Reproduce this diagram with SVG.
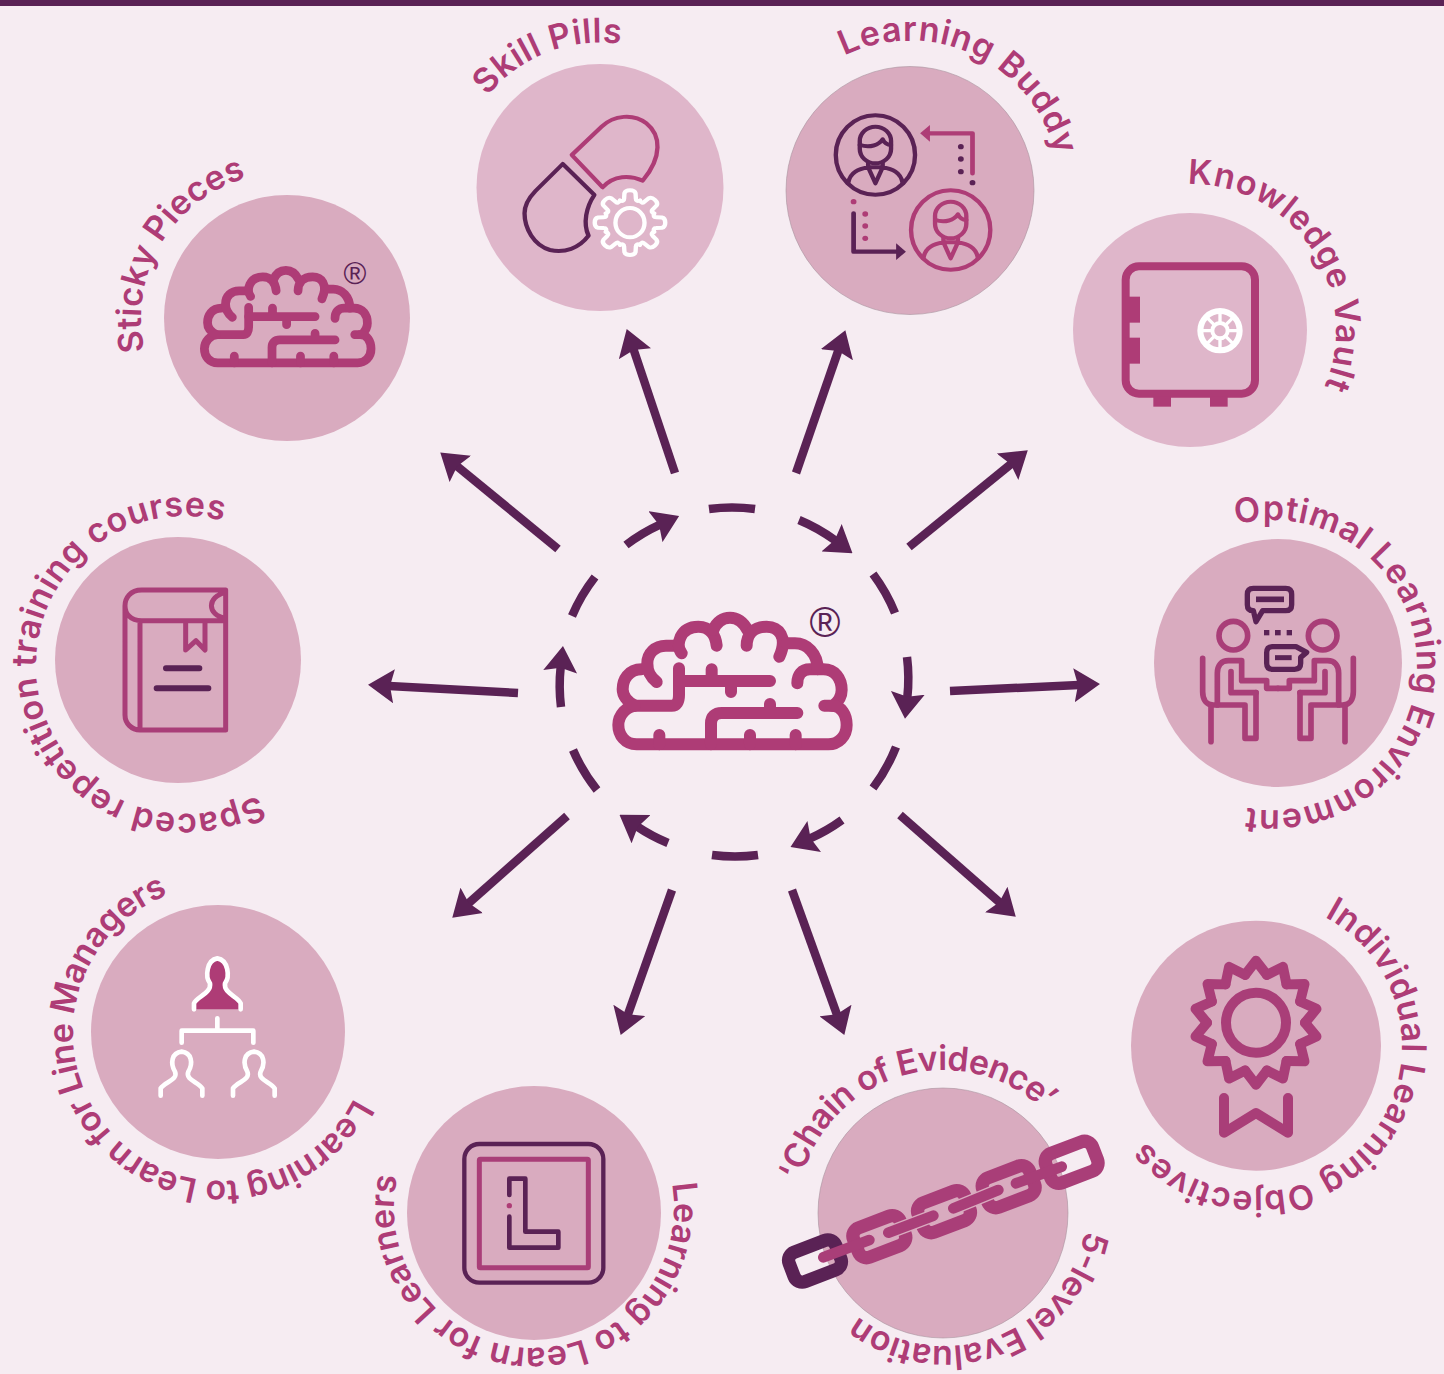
<svg xmlns="http://www.w3.org/2000/svg" xmlns:xlink="http://www.w3.org/1999/xlink" width="1444" height="1374" viewBox="0 0 1444 1374">
<style>
.lbl{font-family:"Inter","Open Sans","Liberation Sans",sans-serif;font-weight:600;font-size:34px;fill:#AE3C76}
.reg{font-family:"Liberation Sans",sans-serif;fill:#5A2255}
.c1{fill:#DFB6CA}
.c2{fill:#D9ABBF}
.cg{stroke:#A8929E;stroke-width:.6}
.ln{fill:none;stroke-linecap:round;stroke-linejoin:round}
.m{stroke:#AE3C76}
.mm{stroke:#A93E78}
.dk{stroke:#5A2255}
.wh{stroke:#fff}
.fm{fill:#AE3C76}
.fd{fill:#5A2255}
.arrow{fill:none;stroke:#5A2255;stroke-width:8.5;marker-end:url(#head)}
.seg{fill:none;stroke:#5A2255;stroke-width:8.5}
.d{color:#5A2255}
.g{color:#AE3C76}
</style>
<defs>
<marker id="head" markerUnits="userSpaceOnUse" viewBox="0 0 26 34" refX="5" refY="17" markerWidth="26" markerHeight="34" orient="auto"><path d="M26,17 L0,0 L4,17 L0,34 Z" fill="#5A2255"/></marker>
<path id="r140" d="M0,-140 A140,140 0 1 1 0,140 A140,140 0 1 1 0,-140"/>
<path id="r143" d="M0,-143 A143,143 0 1 1 0,143 A143,143 0 1 1 0,-143"/>
<path id="r145" d="M0,-145 A145,145 0 1 1 0,145 A145,145 0 1 1 0,-145"/>
<path id="r146" d="M0,-146 A146,146 0 1 1 0,146 A146,146 0 1 1 0,-146"/>
<path id="r148" d="M0,-148 A148,148 0 1 1 0,148 A148,148 0 1 1 0,-148"/>
<path id="r149" d="M0,-149 A149,149 0 1 1 0,149 A149,149 0 1 1 0,-149"/>
<path id="r150" d="M0,-150 A150,150 0 1 1 0,150 A150,150 0 1 1 0,-150"/>
<g id="brain" class="ln m" stroke-width="36">
<path d="M772,610 C772,585 785,568 810,568 L850,568 C885,568 905,595 905,630 C905,650 895,665 880,677 L853,677"/>
<path d="M875,677 C905,677 920,705 920,735 C920,770 895,793 865,793 L290,793 C255,793 235,765 235,735 C235,705 260,677 290,677 L395,677 C410,677 417,665 417,645 L417,565"/>
<path d="M417,603 L690,603 M515,603 L515,568 M573,603 L573,636"/>
<path d="M513,793 L513,730 C513,710 525,699 545,699 L772,699 M690,699 L690,672"/>
<path d="M358,793 L358,765 M630,793 L630,765 M767,793 L767,765"/>
<path d="M285,677 C260,665 248,645 248,628 C248,600 265,568 305,568"/>
<path d="M350,606 C330,590 322,575 322,550 C322,520 345,497 378,497 L415,497"/>
<path d="M425,520 C405,495 420,440 475,440 C510,440 527,465 530,497"/>
<path d="M520,450 C530,425 550,413 570,413 C590,413 610,425 622,450"/>
<path d="M620,497 C620,465 640,440 680,440 C715,440 745,470 718,530"/>
<path d="M740,490 L765,490 C800,490 833,520 833,568"/>
</g>
<g id="person" fill="none" stroke="currentColor" stroke-width="12" stroke-linecap="round" stroke-linejoin="round">
<ellipse cx="0" cy="0" rx="109" ry="119"/>
<rect x="-43" y="-85" width="86" height="110" rx="43"/>
<path d="M-43,-30 C-15,-20 10,-30 20,-47 C25,-35 35,-30 43,-30"/>
<path d="M-75,85 C-70,50 -45,42 -20,37 L0,85 L20,37 C45,42 70,50 75,85 M-20,25 L-20,37 L20,37 L20,25"/>
</g>
<path id="tooth" class="ln wh" stroke-width="12" d="M-27.6,-66.5 Q-16.2,-62 -16.2,-72 L-15.3,-88 Q-13,-97 0,-97 Q13,-97 15.3,-88 L16.2,-72 Q16.2,-62 27.6,-66.5"/>
<path id="point" class="ln mm" stroke-width="10" d="M-10.9,-47.8 L0,-62 L10.9,-47.8"/>
<g id="sitter" class="ln mm" stroke-width="17" stroke-linecap="butt" stroke-linejoin="miter">
<circle cx="190" cy="197" r="43"/>
<path d="M98,265 L98,365 C98,390 110,405 130,405 L225,405 L225,505 L258,505 L258,368"/>
<path d="M123,405 L123,515"/>
<path d="M142,405 L142,310 C142,285 155,272 175,272 L215,272 L215,332 L290,332 L290,355 L324,355"/>
<path d="M183,305 L183,368 L258,368"/>
</g>
<g id="lperson" class="ln wh" stroke-width="14">
<path d="M62,467 L62,445 C75,425 115,420 105,395 C90,370 95,338 125,335 C155,338 160,370 145,395 C135,420 175,425 187,445 L187,467"/>
</g>
</defs>

<rect width="1444" height="1374" fill="#F6ECF2"/>
<rect width="1444" height="6" fill="#5A2255"/>

<g id="connectors">
<path class="arrow" d="M558,549 L456.5,465.7"/>
<path class="arrow" d="M675,473 L633.4,349"/>
<path class="arrow" d="M796,473 L838.5,350"/>
<path class="arrow" d="M909,547 L1011.5,463.6"/>
<path class="arrow" d="M950,691 L1079,685"/>
<path class="arrow" d="M900,815 L1000,902.8"/>
<path class="arrow" d="M792,890 L837.2,1015.2"/>
<path class="arrow" d="M672,890 L627.7,1015.1"/>
<path class="arrow" d="M567,816 L468,903.7"/>
<path class="arrow" d="M518,693 L389,686"/>
<path class="seg" d="M709,509 A174,174 0 0 1 755,509"/>
<path class="arrow" d="M799,520 A174,174 0 0 1 835.6,540.7"/>
<path class="seg" d="M873,574 A174,174 0 0 1 895,613"/>
<path class="arrow" d="M907,657 A174,174 0 0 1 907.3,697.8"/>
<path class="seg" d="M896,747 A174,174 0 0 1 873,788"/>
<path class="arrow" d="M842,820 A174,174 0 0 1 809.7,838.6"/>
<path class="seg" d="M758,855 A174,174 0 0 1 712,855"/>
<path class="arrow" d="M668,843 A174,174 0 0 1 636.9,826.4"/>
<path class="seg" d="M597,790 A174,174 0 0 1 573,750"/>
<path class="arrow" d="M561,707 A174,174 0 0 1 560.7,666.8"/>
<path class="seg" d="M572,616 A174,174 0 0 1 595,577"/>
<path class="arrow" d="M626,545 A174,174 0 0 1 660,524.6"/>
</g>

<g id="center-brain">
<use href="#brain" transform="translate(540,480) scale(.33333)"/>
<text class="reg" x="825" y="637" font-size="42" text-anchor="middle">®</text>
</g>

<g id="sticky-pieces">
<circle class="c2" cx="287" cy="318" r="123"/>
<use href="#brain" transform="translate(147.2,169.9) scale(.2433)"/>
<text class="reg" x="355" y="284" font-size="31" text-anchor="middle">®</text>
<text class="lbl" transform="translate(287,318) rotate(-103)"><textPath href="#r146" textLength="221" lengthAdjust="spacing">Sticky Pieces</textPath></text>
</g>

<g id="skill-pills">
<circle class="c1" cx="600" cy="187.5" r="123.5"/>
<g transform="translate(470,60) scale(.3636,.3333)">
<path class="ln m" stroke-width="12" d="M280,285 L362,200 C395,165 450,160 485,190 C525,225 530,290 475,362 C440,345 395,345 365,382 Z"/>
<path class="ln dk" stroke-width="12" d="M255,312 L342,405 C320,440 310,490 326,527 C300,565 260,580 220,570 C175,555 150,505 150,460 C150,435 165,410 180,393 Z"/>
<g transform="translate(440,488)">
<use href="#tooth"/><use href="#tooth" transform="rotate(45)"/><use href="#tooth" transform="rotate(90)"/><use href="#tooth" transform="rotate(135)"/><use href="#tooth" transform="rotate(180)"/><use href="#tooth" transform="rotate(225)"/><use href="#tooth" transform="rotate(270)"/><use href="#tooth" transform="rotate(315)"/>
<ellipse class="ln wh" stroke-width="12" rx="40" ry="44"/>
</g>
</g>
<text class="lbl" transform="translate(600,187.5) rotate(-51)"><textPath href="#r145" textLength="150" lengthAdjust="spacing">Skill Pills</textPath></text>
</g>

<g id="learning-buddy">
<circle class="c2 cg" cx="910" cy="190.5" r="124"/>
<g transform="translate(470,60) scale(.3636,.3333)">
<use href="#person" class="d" transform="translate(1115,285)"/>
<use href="#person" class="g" transform="translate(1322,510)"/>
<path class="ln m" stroke-width="13" d="M1382,340 L1382,220 L1260,220"/>
<path class="fm" d="M1238,220 L1265,195 L1265,245 Z"/>
<circle class="fd" cx="1350" cy="260" r="8"/><circle class="fd" cx="1350" cy="297" r="8"/><circle class="fd" cx="1350" cy="335" r="8"/><circle class="fd" cx="1382" cy="368" r="8"/>
<path class="ln dk" stroke-width="13" d="M1055,460 L1055,575 L1180,575"/>
<path class="fd" d="M1199,575 L1172,550 L1172,600 Z"/>
<circle class="fm" cx="1055" cy="425" r="8"/><circle class="fm" cx="1087" cy="462" r="8"/><circle class="fm" cx="1087" cy="498" r="8"/><circle class="fm" cx="1087" cy="535" r="8"/>
</g>
<text class="lbl" transform="translate(910,190.5) rotate(-26)"><textPath href="#r150" textLength="268" lengthAdjust="spacing">Learning Buddy</textPath></text>
</g>

<g id="knowledge-vault">
<circle class="c1" cx="1190" cy="330" r="117"/>
<g transform="translate(1110,255) scale(.33333)">
<rect class="ln m" stroke-width="24" x="47" y="34" width="388" height="382" rx="40"/>
<rect class="fm" x="47" y="125" width="43" height="78"/><rect class="fm" x="47" y="248" width="43" height="78"/>
<rect class="fm" x="130" y="425" width="53" height="30"/><rect class="fm" x="300" y="425" width="53" height="30"/>
<g transform="translate(330,227)" fill="none" stroke="#fff">
<circle r="59" stroke-width="18"/>
<circle r="23" stroke-width="12"/>
<path stroke-width="10" d="M0,-55 V-25 M0,55 V25 M-55,0 H-25 M55,0 H25 M-39,-39 L-18,-18 M39,-39 L18,-18 M-39,39 L-18,18 M39,39 L18,18"/>
</g>
</g>
<text class="lbl" transform="translate(1190,330) rotate(-1)"><textPath href="#r146" textLength="290" lengthAdjust="spacing">Knowledge Vault</textPath></text>
</g>

<g id="optimal-learning-environment">
<circle class="c2" cx="1278" cy="663" r="124"/>
<g transform="translate(1170,570) scale(.33333)">
<use href="#sitter"/>
<use href="#sitter" transform="translate(648,0) scale(-1,1)"/>
<path class="ln dk" stroke-width="16" d="M250,55 L347,55 Q365,55 365,73 L365,104 Q365,122 347,122 L278,122 L258,155 L250,122 Q232,122 232,104 L232,73 Q232,55 250,55 Z"/>
<path class="dk" stroke-width="17" d="M258,88 H342"/>
<rect class="fd" x="282" y="180" width="16" height="16"/><rect class="fd" x="315" y="180" width="17" height="16"/><rect class="fd" x="350" y="180" width="16" height="16"/>
<path class="ln dk" stroke-width="16" d="M308,230 L378,230 L410,247 L392,262 L392,280 Q392,298 374,298 L308,298 Q290,298 290,280 L290,248 Q290,230 308,230 Z"/>
<path class="dk" stroke-width="15" d="M315,263 H365"/>
</g>
<text class="lbl" transform="translate(1272,665) rotate(-14.3)"><textPath href="#r145" textLength="517" lengthAdjust="spacing">Optimal Learning Environment</textPath></text>
</g>

<g id="individual-learning-objectives">
<circle class="c2" cx="1256" cy="1045.7" r="125"/>
<g transform="translate(1256,1022.7)">
<use href="#point"/><use href="#point" transform="rotate(25.714)"/><use href="#point" transform="rotate(51.429)"/><use href="#point" transform="rotate(77.143)"/><use href="#point" transform="rotate(102.857)"/><use href="#point" transform="rotate(128.571)"/><use href="#point" transform="rotate(154.286)"/><use href="#point" transform="rotate(180)"/><use href="#point" transform="rotate(205.714)"/><use href="#point" transform="rotate(231.429)"/><use href="#point" transform="rotate(257.143)"/><use href="#point" transform="rotate(282.857)"/><use href="#point" transform="rotate(308.571)"/><use href="#point" transform="rotate(334.286)"/>
<circle class="ln mm" stroke-width="10" r="30"/>
</g>
<path class="ln mm" stroke-width="10" d="M1224,1098 L1224,1132.7 L1256,1113 L1288,1132.7 L1288,1098"/>
<text class="lbl" transform="translate(1256,1045.7) rotate(28)"><textPath href="#r146" textLength="512" lengthAdjust="spacing">Individual Learning Objectives</textPath></text>
</g>

<g id="chain-of-evidence">
<circle class="c2 cg" cx="943" cy="1213" r="125"/>
<g transform="translate(770,1120) scale(.33333)">
<rect class="ln dk" stroke-width="40" x="-75" y="-47" width="150" height="94" rx="26" transform="translate(135,423) rotate(-21)"/>
<rect class="ln mm" stroke-width="40" x="-75" y="-47" width="150" height="94" rx="26" transform="translate(328,350) rotate(-21)"/>
<rect class="ln mm" stroke-width="40" x="-75" y="-47" width="150" height="94" rx="26" transform="translate(522,275) rotate(-21)"/>
<rect class="ln mm" stroke-width="40" x="-75" y="-47" width="150" height="94" rx="26" transform="translate(716,200) rotate(-21)"/>
<rect class="ln mm" stroke-width="40" x="-75" y="-47" width="150" height="94" rx="26" transform="translate(905,127) rotate(-21)"/>
<path class="ln" stroke="#D9ABBF" stroke-width="40" d="M355,338 L490,287 M550,265 L685,210"/>
<path class="ln mm" stroke-width="32" d="M160,412 L298,360 M355,338 L490,287 M550,265 L685,210 M738,190 L875,140"/>
</g>
<text class="lbl" transform="translate(943,1216) rotate(-76)"><textPath href="#r146" textLength="305" lengthAdjust="spacing">‘Chain of Evidence’</textPath></text>
<text class="lbl" transform="translate(945,1203) rotate(101)"><textPath href="#r143" textLength="291" lengthAdjust="spacing">5-level Evaluation</textPath></text>
</g>

<g id="learning-to-learn-for-learners">
<circle class="c2" cx="534" cy="1213" r="127"/>
<g transform="translate(450,1130) scale(.33333)">
<rect class="ln dk" stroke-width="13" x="43" y="42" width="417" height="416" rx="45"/>
<rect class="ln mm" stroke-width="15" x="88" y="88" width="327" height="325" rx="3"/>
<path class="ln dk" stroke-width="14" d="M178,195 L178,146 L226,146 L226,305 L325,305 L325,353 L178,353 L178,260"/>
<circle class="fm" cx="178" cy="227" r="8"/>
</g>
<text class="lbl" transform="translate(534,1208) rotate(80)"><textPath href="#r140" textLength="496" lengthAdjust="spacing">Learning to Learn for Learners</textPath></text>
</g>

<g id="learning-to-learn-for-line-managers">
<circle class="c2" cx="218" cy="1032" r="127"/>
<g transform="translate(140,940) scale(.33333)">
<path class="fm" d="M162,208 L162,190 C170,170 215,160 210,130 C195,110 200,60 232,55 C265,60 270,110 255,130 C250,160 295,170 302,190 L302,208 Z"/>
<path class="ln wh" stroke-width="14" d="M162,208 L162,190 C170,170 215,160 210,130 C195,110 200,60 232,55 C265,60 270,110 255,130 C250,160 295,170 302,190 L302,208"/>
<path class="ln wh" stroke-width="14" d="M232,235 L232,272 M125,308 L125,272 L340,272 L340,308"/>
<use href="#lperson"/>
<use href="#lperson" transform="translate(217,0)"/>
</g>
<text class="lbl" transform="translate(221,1033) rotate(116)"><textPath href="#r148" textLength="576" lengthAdjust="spacing">Learning to Learn for Line Managers</textPath></text>
</g>

<g id="spaced-repetition">
<circle class="c2" cx="178" cy="660" r="123"/>
<g transform="translate(110,575) scale(.33333)">
<path class="ln mm" stroke-width="15" d="M347,45 L95,45 C60,45 45,70 45,92 C45,115 60,137 95,137 L347,137 M347,45 L347,465 L90,465 C65,465 45,445 45,420 L45,92 M90,137 L90,465 M347,52 C290,65 290,120 347,130 M227,137 L227,225 L258,197 L285,225 L285,137"/>
<path class="ln dk" stroke-width="18" d="M168,280 L268,280 M140,340 L295,340"/>
</g>
<text class="lbl" transform="translate(185,665) rotate(150.6)"><textPath href="#r149" textLength="583" lengthAdjust="spacing">Spaced repetition training courses</textPath></text>
</g>
</svg>
